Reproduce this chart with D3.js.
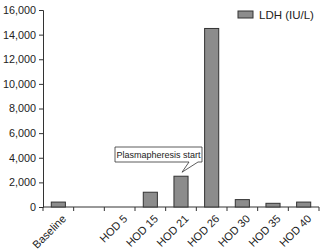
<!DOCTYPE html>
<html>
<head>
<meta charset="utf-8">
<script src="https://cdn.jsdelivr.net/npm/d3@7"></script>
<style>
  body { margin: 0; background: #fff; }
  svg { font-family: "Liberation Sans", Arial, sans-serif; }
  .axis text { fill: #222; }
  .y-axis text { font-size: 10.8px; }
  .x-axis text { font-size: 11px; }
  .axis path, .axis line { stroke: #333; }
</style>
</head>
<body>
<svg id="chart"></svg>
<script>
// categories (second slot is an unlabelled gap in the original)
const categories = ['Baseline', '', 'HOD 5', 'HOD 15', 'HOD 21', 'HOD 26', 'HOD 30', 'HOD 35', 'HOD 40'];
const ldhValues = [400, null, 0, 1200, 2500, 14500, 600, 300, 400];
const yTicks = [0, 2000, 4000, 6000, 8000, 10000, 12000, 14000, 16000];
const seriesName = 'LDH (IU/L)';
const noteText = 'Plasmapheresis start';
const noteCategory = 'HOD 21';

const width = 325, height = 251;
const margin = {top: 10, right: 6, bottom: 44, left: 43};
const innerW = width - margin.left - margin.right;
const innerH = height - margin.top - margin.bottom;

const svg = d3.select('#chart')
  .attr('width', width)
  .attr('height', height);

const chart = svg.append('g')
  .attr('transform', `translate(${margin.left},${margin.top})`);

const x = d3.scaleBand()
  .domain(categories.map((d, i) => i))
  .range([0, innerW])
  .padding(0);

const y = d3.scaleLinear()
  .domain([0, 16000])
  .range([innerH, 0]);

// y axis
const yAxis = d3.axisLeft(y)
  .tickValues(yTicks)
  .tickSize(4)
  .tickPadding(3)
  .tickFormat(d3.format(','));

chart.append('g')
  .attr('class', 'axis y-axis')
  .call(yAxis);

// x axis: line plus ticks on band boundaries
const xAxisG = chart.append('g')
  .attr('class', 'axis x-axis')
  .attr('transform', `translate(0,${innerH})`);

xAxisG.append('line')
  .attr('x1', 0).attr('x2', innerW)
  .attr('y1', 0).attr('y2', 0)
  .attr('stroke', '#333');

const bounds = categories.map((d, i) => x(i)).concat([innerW]);
xAxisG.selectAll('.btick')
  .data(bounds)
  .join('line')
  .attr('class', 'btick')
  .attr('x1', d => d).attr('x2', d => d)
  .attr('y1', 0).attr('y2', 4)
  .attr('stroke', '#333');

xAxisG.selectAll('.xlabel')
  .data(categories)
  .join('text')
  .attr('class', 'xlabel')
  .attr('text-anchor', 'end')
  .attr('transform', (d, i) => `translate(${x(i) + x.bandwidth() / 2 + 3},${7}) rotate(-45)`)
  .attr('dy', '0.7em')
  .text(d => d);

// bars
const barW = x.bandwidth() * 0.46;
const barData = ldhValues.map((v, i) => ({i, v})).filter(d => d.v);

chart.selectAll('.bar')
  .data(barData)
  .join('rect')
  .attr('class', 'bar')
  .attr('x', d => x(d.i) + (x.bandwidth() - barW) / 2)
  .attr('width', barW)
  .attr('y', d => y(d.v))
  .attr('height', d => innerH - y(d.v))
  .attr('fill', '#8c8c8c')
  .attr('stroke', '#333')
  .attr('stroke-width', 1);

// legend
const legend = svg.append('g').attr('transform', 'translate(238,11)');
legend.append('rect')
  .attr('width', 15).attr('height', 7)
  .attr('fill', '#8c8c8c')
  .attr('stroke', '#333');
legend.append('text')
  .attr('x', 21).attr('y', 8)
  .attr('font-size', 11.5)
  .attr('fill', '#222')
  .text(seriesName);

// annotation callout
const ni = categories.indexOf(noteCategory);
const tipX = x(ni) + x.bandwidth() / 2 + 1;
const tipY = y(ldhValues[ni]) - 4;
const boxX = 72, boxY = 137, boxW = 87, boxH = 15;
chart.append('path')
  .attr('d', `M${boxX},${boxY} H${boxX + boxW} V${boxY + boxH} H${boxX + boxW - 4} L${tipX},${tipY} L${boxX + boxW - 13},${boxY + boxH} H${boxX} Z`)
  .attr('fill', '#fff')
  .attr('stroke', '#333')
  .attr('stroke-width', 0.8);
chart.append('text')
  .attr('x', boxX + boxW / 2)
  .attr('y', boxY + 11)
  .attr('text-anchor', 'middle')
  .attr('font-size', 9)
  .attr('fill', '#222')
  .text(noteText);
</script>
</body>
</html>
